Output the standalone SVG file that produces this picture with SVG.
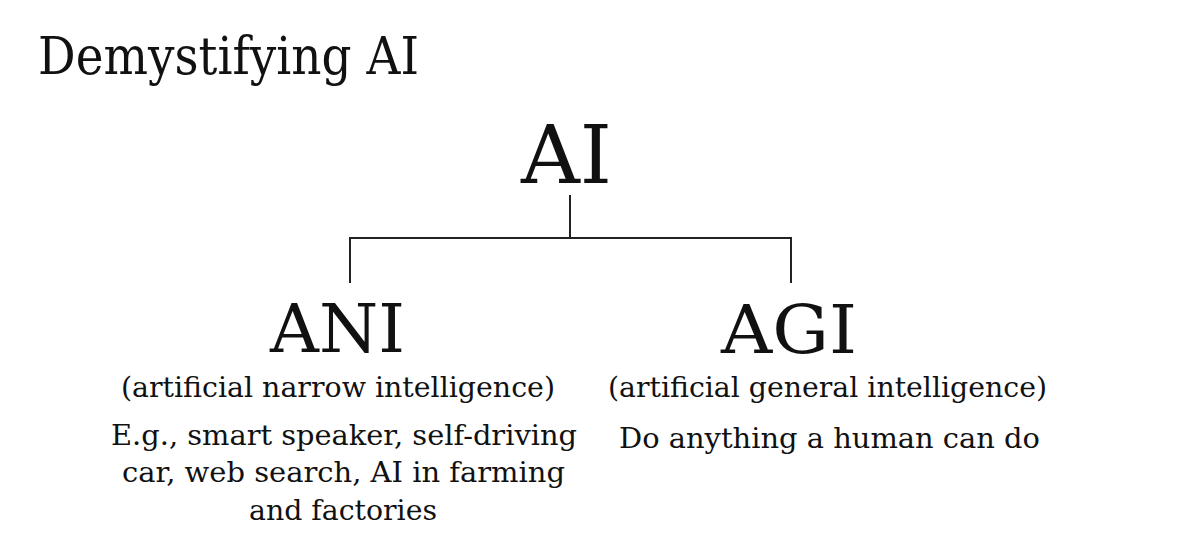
<svg xmlns="http://www.w3.org/2000/svg" width="1199" height="560" viewBox="0 0 1199 560">
  <style>
    text { font-family: "DejaVu Serif", "Liberation Serif", serif; fill: #111; }
    .title { font-size: 53px; }
    .big { font-size: 80px; }
    .mid { font-size: 68px; }
    .sub { font-size: 27.5px; }
    .conn { stroke: #222; stroke-width: 2; fill: none; }
  </style>
  <rect width="1199" height="560" fill="#ffffff"/>
  <text class="title" x="38" y="74" textLength="381" lengthAdjust="spacingAndGlyphs">Demystifying AI</text>
  <g id="connectors">
    <line class="conn" x1="570" y1="195" x2="570" y2="238"/>
    <line class="conn" x1="349" y1="238" x2="792" y2="238"/>
    <line class="conn" x1="350" y1="237" x2="350" y2="283"/>
    <line class="conn" x1="791" y1="237" x2="791" y2="283"/>
  </g>
  <g id="node-ai">
    <text class="big" x="521" y="183" textLength="91" lengthAdjust="spacingAndGlyphs">AI</text>
  </g>
  <g id="node-ani">
    <text class="mid" x="270" y="352" textLength="135" lengthAdjust="spacingAndGlyphs">ANI</text>
    <text class="sub" x="121" y="397" textLength="434" lengthAdjust="spacingAndGlyphs">(artificial narrow intelligence)</text>
    <text class="sub" x="111" y="445" textLength="466" lengthAdjust="spacingAndGlyphs">E.g., smart speaker, self-driving</text>
    <text class="sub" x="122" y="482" textLength="443" lengthAdjust="spacingAndGlyphs">car, web search, AI in farming</text>
    <text class="sub" x="249" y="520" textLength="188" lengthAdjust="spacingAndGlyphs">and factories</text>
  </g>
  <g id="node-agi">
    <text class="mid" x="721" y="353" textLength="136" lengthAdjust="spacingAndGlyphs">AGI</text>
    <text class="sub" x="608" y="397" textLength="439" lengthAdjust="spacingAndGlyphs">(artificial general intelligence)</text>
    <text class="sub" x="619" y="448" textLength="421" lengthAdjust="spacingAndGlyphs">Do anything a human can do</text>
  </g>
</svg>
